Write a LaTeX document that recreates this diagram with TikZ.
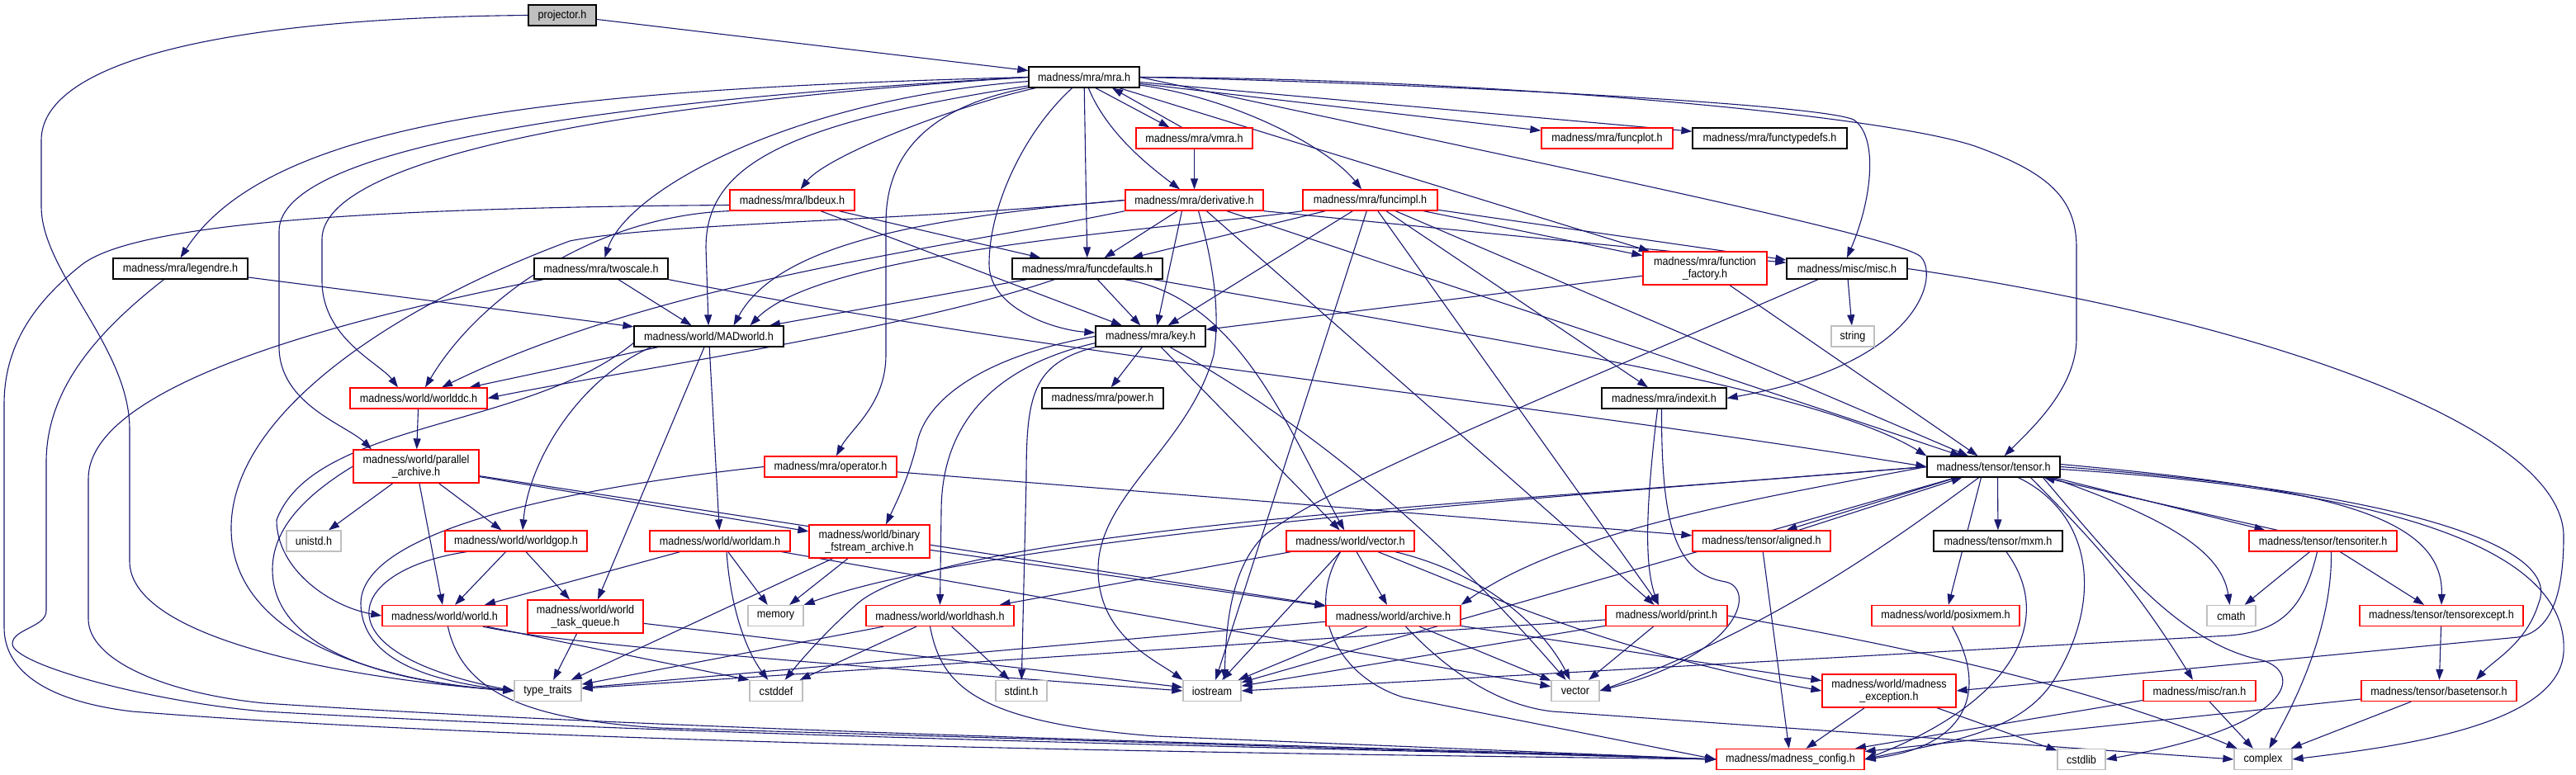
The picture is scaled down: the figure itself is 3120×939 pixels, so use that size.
\documentclass[tikz,border=0pt]{standalone}
\usepackage{fontspec}
\setmainfont{Liberation Sans}[FakeStretch=0.9]
\usetikzlibrary{arrows.meta}
\pgfdeclarelayer{background}
\pgfsetlayers{background,main}
\definecolor{edgec}{HTML}{191970}
\definecolor{redc}{HTML}{FF0000}
\definecolor{grayb}{HTML}{BFBFBF}
\definecolor{projfill}{HTML}{BFBFBF}
\tikzset{
 nb/.style={draw, fill=white, line width=1.3pt, inner sep=0pt, minimum height=25pt, font=\fontsize{14}{15}\selectfont, align=center},
 kb/.style={nb, draw=black},
 rb/.style={nb, draw=redc},
 gb/.style={nb, draw=grayb},
 tall/.style={minimum height=40pt},
 e/.style={draw=edgec, line width=1.1pt, -{Triangle[length=13pt,width=9pt]}}
}
\begin{document}
\begin{tikzpicture}[x=1pt,y=-1pt]
\useasboundingbox (0,0) rectangle (3120,939);
% nodes
\node[kb, fill=projfill, minimum width=82pt] (proj) at (681,18.5) {projector.h};
\node[kb, minimum width=134pt] (mra) at (1313,93.5) {madness/mra/mra.h};
\node[rb, minimum width=141pt] (vmra) at (1446.5,167.5) {madness/mra/vmra.h};
\node[rb, minimum width=159pt] (funcplot) at (1946.5,167.5) {madness/mra/funcplot.h};
\node[kb, minimum width=187pt] (functypedefs) at (2143.5,167.5) {madness/mra/functypedefs.h};
\node[rb, minimum width=151pt] (lbdeux) at (959.5,242.5) {madness/mra/lbdeux.h};
\node[rb, minimum width=167pt] (derivative) at (1446.5,242.5) {madness/mra/derivative.h};
\node[rb, minimum width=163pt] (funcimpl) at (1659.5,242.5) {madness/mra/funcimpl.h};
\node[kb, minimum width=163pt] (legendre) at (218.5,325.5) {madness/mra/legendre.h};
\node[kb, minimum width=162pt] (twoscale) at (728,325.5) {madness/mra/twoscale.h};
\node[kb, minimum width=182pt] (funcdefaults) at (1317,325.5) {madness/mra/funcdefaults.h};
\node[rb, tall, minimum width=150pt] (ff) at (2065,325) {madness/mra/function\\\_factory.h};
\node[kb, minimum width=146pt] (misc) at (2237,325.5) {madness/misc/misc.h};
\node[kb, minimum width=181pt] (MADworld) at (858.5,407.5) {madness/world/MADworld.h};
\node[kb, minimum width=133pt] (key) at (1393.5,407.5) {madness/mra/key.h};
\node[gb, minimum width=52pt] (string) at (2244,407.5) {string};
\node[rb, minimum width=166pt] (worlddc) at (507,482.5) {madness/world/worlddc.h};
\node[kb, minimum width=147pt] (power) at (1335.5,482.5) {madness/mra/power.h};
\node[kb, minimum width=151pt] (indexit) at (2015.5,482.5) {madness/mra/indexit.h};
\node[rb, tall, minimum width=152pt] (pa) at (504,565) {madness/world/parallel\\\_archive.h};
\node[rb, minimum width=160pt] (operator) at (1006,565.5) {madness/mra/operator.h};
\node[kb, minimum width=161pt] (tensor) at (2414.5,565.5) {madness/tensor/tensor.h};
\node[gb, minimum width=66pt] (unistd) at (380,655.5) {unistd.h};
\node[rb, minimum width=172pt] (worldgop) at (625,655.5) {madness/world/worldgop.h};
\node[rb, minimum width=170pt] (worldam) at (872,655.5) {madness/world/worldam.h};
\node[rb, tall, minimum width=146pt] (binary) at (1053,656) {madness/world/binary\\\_fstream\_archive.h};
\node[rb, minimum width=155pt] (vectorh) at (1635.5,655.5) {madness/world/vector.h};
\node[rb, minimum width=167pt] (aligned) at (2133.5,655.5) {madness/tensor/aligned.h};
\node[kb, minimum width=156pt] (mxm) at (2420,655.5) {madness/tensor/mxm.h};
\node[rb, minimum width=179pt] (tensoriter) at (2813.5,655.5) {madness/tensor/tensoriter.h};
\node[rb, minimum width=151pt] (world) at (538.5,746) {madness/world/world.h};
\node[rb, tall, minimum width=140pt] (taskq) at (709,747) {madness/world/world\\\_task\_queue.h};
\node[gb, minimum width=67pt] (memory) at (939.5,746) {memory};
\node[rb, minimum width=179pt] (worldhash) at (1138.5,746) {madness/world/worldhash.h};
\node[rb, minimum width=163pt] (archive) at (1687.5,746) {madness/world/archive.h};
\node[rb, minimum width=147pt] (print) at (2018.5,746) {madness/world/print.h};
\node[rb, minimum width=179pt] (posixmem) at (2356.5,746) {madness/world/posixmem.h};
\node[gb, minimum width=59pt] (cmath) at (2702.5,746) {cmath};
\node[rb, minimum width=198pt] (tensorexcept) at (2957,746) {madness/tensor/tensorexcept.h};
\node[gb, minimum width=81pt] (tt) at (663.5,837) {type\_traits};
\node[gb, minimum width=64pt] (cstddef) at (940,837) {cstddef};
\node[gb, minimum width=62pt] (stdint) at (1237,837) {stdint.h};
\node[gb, minimum width=70pt] (iostream) at (1468,837) {iostream};
\node[gb, minimum width=58pt] (vector) at (1908,837) {vector};
\node[rb, tall, minimum width=162pt] (exception) at (2288,837) {madness/world/madness\\\_exception.h};
\node[rb, minimum width=136pt] (ran) at (2664,837) {madness/misc/ran.h};
\node[rb, minimum width=188pt] (basetensor) at (2954,837) {madness/tensor/basetensor.h};
\node[rb, minimum width=179pt] (config) at (2168.5,920) {madness/madness\_config.h};
\node[gb, minimum width=58pt] (cstdlib) at (2521,920) {cstdlib};
\node[gb, minimum width=70pt] (complex) at (2741,920) {complex};

\begin{pgfonlayer}{background}
% projector
\draw[e] (proj) -- (mra);
\draw[e] (proj.west) .. controls (250,22) and (50,80) .. (50,170) -- (50,250) .. controls (50,330) and (157,420) .. (157,520) -- (157,680) .. controls (157,780) and (450,825) .. (tt.west);
% mra
\draw[e] (mra.west) .. controls (700,108) and (330,140) .. (legendre.north);
\draw[e] (mra.west) .. controls (800,118) and (338,170) .. (338,280) -- (338,420) .. controls (338,490) and (420,515) .. ([xshift=-54pt]pa.north);
\draw[e] (mra.west) .. controls (760,125) and (390,190) .. (390,290) -- (390,340) .. controls (390,410) and (460,440) .. ([xshift=-25pt]worlddc.north);
\draw[e] (mra) .. controls (960,120) and (760,230) .. (twoscale);
\draw[e] (mra) .. controls (1150,130) and (1000,190) .. (lbdeux);
\draw[e] (mra) .. controls (950,150) and (855,200) .. (855,300) -- (MADworld);
\draw[e] (mra) .. controls (1120,130) and (1073,190) .. (1073,270) -- (1073,430) .. controls (1073,490) and (1030,520) .. (operator);
\draw[e] (mra) .. controls (1240,160) and (1198,250) .. (1198,320) .. controls (1198,375) and (1280,400) .. (key);
\draw[e] (mra) -- (funcdefaults);
\draw[e] ([xshift=14pt]mra.south) -- ([xshift=-30pt]vmra.north);
\draw[e] ([xshift=-15pt]vmra.north) -- ([xshift=34pt]mra.south);
\draw[e] (vmra) -- (derivative);
\draw[e] (mra) .. controls (1340,160) and (1390,200) .. (derivative);
\draw[e] (mra) .. controls (1500,120) and (1610,180) .. (funcimpl);
\draw[e] (mra) -- (funcplot);
\draw[e] (mra) -- (functypedefs);
\draw[e] (mra) -- (ff);
\draw[e] (mra.east) .. controls (1700,100) and (2200,125) .. (2245,145) .. controls (2275,165) and (2268,240) .. (misc.north);
\draw[e] (mra.east) .. controls (1900,205) and (2290,285) .. (2325,310) .. controls (2350,330) and (2330,440) .. (indexit.east);
\draw[e] (mra.east) .. controls (1800,95) and (2300,140) .. (2400,180) .. controls (2480,210) and (2515,240) .. (2515,300) -- (2515,410) .. controls (2515,470) and (2460,520) .. (tensor);
% legendre
\draw[e] (legendre) -- (MADworld);
\draw[e] ([xshift=-20pt]legendre.south) .. controls (120,400) and (56,470) .. (56,560) -- (56,740) .. controls (56,760) and (15,762) .. (15,780) .. controls (15,805) and (180,850) .. (320,862) .. controls (900,895) and (1700,908) .. (config.west);
% twoscale
\draw[e] (twoscale) -- (MADworld);
\draw[e] (twoscale.south east) .. controls (1300,435) and (1800,480) .. (tensor.west);
\draw[e] ([xshift=-70pt]twoscale.south) .. controls (450,380) and (107,460) .. (107,580) -- (107,750) .. controls (107,800) and (200,840) .. (320,852) .. controls (900,890) and (1700,905) .. (config.west);
% lbdeux
\draw[e] (lbdeux) -- (key);
\draw[e] (lbdeux) -- (funcdefaults);
\draw[e] (lbdeux.south west) .. controls (720,262) and (580,360) .. ([xshift=8pt]worlddc.north);
\draw[e] ([yshift=-6pt]lbdeux.west) .. controls (400,252) and (160,275) .. (100,320) .. controls (30,375) and (5,430) .. (5,490) -- (5,760) .. controls (5,815) and (60,850) .. (160,862) .. controls (700,905) and (1700,915) .. (config.west);
% derivative
\draw[e] (derivative) -- (funcdefaults);
\draw[e] ([xshift=-15pt]derivative.south) -- ([xshift=8pt]key.north);
\draw[e] (derivative.west) .. controls (1100,265) and (940,300) .. ([xshift=30pt]MADworld.north);
\draw[e] (derivative.south west) .. controls (1150,300) and (800,340) .. ([xshift=28pt]worlddc.north);
\draw[e] ([xshift=5pt]derivative.south) .. controls (1470,320) and (1478,380) .. (1470,430) .. controls (1440,540) and (1330,600) .. (1330,690) .. controls (1330,770) and (1400,800) .. (iostream.north west);
\draw[e] (derivative) -- (print);
\draw[e] (derivative) -- (tensor);
\draw[e] (derivative.south east) -- (misc);
\draw[e] (derivative.west) .. controls (1100,268) and (800,270) .. (690,292) .. controls (480,370) and (280,500) .. (280,640) .. controls (280,770) and (450,825) .. (tt.west);
% funcimpl
\draw[e] (funcimpl.south west) .. controls (1450,275) and (1000,300) .. ([xshift=50pt]MADworld.north);
\draw[e] (funcimpl) -- (funcdefaults);
\draw[e] (funcimpl) -- (key);
\draw[e] (funcimpl) -- (ff);
\draw[e] (funcimpl) -- (misc);
\draw[e] (funcimpl) -- (tensor);
\draw[e] (funcimpl) -- (indexit);
\draw[e] (funcimpl) -- (print);
\draw[e] (funcimpl) -- (iostream);
% funcdefaults
\draw[e] (funcdefaults) -- (MADworld);
\draw[e] ([xshift=-40pt]funcdefaults.south) .. controls (1100,400) and (750,450) .. (worlddc.east);
\draw[e] (funcdefaults) -- (key);
\draw[e] ([xshift=80pt]funcdefaults.south) .. controls (1800,410) and (2200,470) .. (tensor.north west);
\draw[e] ([xshift=45pt]funcdefaults.south) .. controls (1500,360) and (1560,520) .. (vectorh);
% function factory
\draw[e] (ff) -- (key);
\draw[e] (ff) -- (tensor);
% misc
\draw[e] (misc) -- (string);
\draw[e] ([xshift=-35pt]misc.south) .. controls (1900,470) and (1600,590) .. (1530,650) .. controls (1490,690) and (1485,760) .. ([xshift=15pt]iostream.north);
\draw[e] (misc.east) .. controls (2750,390) and (3105,520) .. (3105,650) .. controls (3105,720) and (3090,765) .. (3050,772) -- (exception.east);
% MADworld
\draw[e] (MADworld) -- (worlddc);
\draw[e] ([xshift=-70pt]MADworld.south) .. controls (700,460) and (640,560) .. ([xshift=8pt]worldgop.north);
\draw[e] ([yshift=-8pt]MADworld.west) .. controls (640,520) and (380,510) .. (335,630) .. controls (335,690) and (400,735) .. (world.west);
\draw[e] (MADworld) -- ([xshift=15pt]taskq.north);
\draw[e] (MADworld) -- (worldam);
% worlddc, parallel archive
\draw[e] (worlddc) -- (pa);
\draw[e] (pa) -- (unistd);
\draw[e] (pa) -- (worldgop);
\draw[e] (pa) -- (world);
\draw[e] (pa) -- (binary);
\draw[e] (pa) -- (archive);
\draw[e] (pa.west) .. controls (370,600) and (330,640) .. (330,690) .. controls (330,780) and (450,825) .. (tt.west);
% worldgop
\draw[e] (worldgop) -- (world);
\draw[e] (worldgop) -- (taskq);
\draw[e] ([xshift=-60pt]worldgop.south) .. controls (420,690) and (380,790) .. (tt.west);
% worldam
\draw[e] (worldam) -- (world);
\draw[e] (worldam) -- (memory);
\draw[e] ([xshift=8pt]worldam.south) .. controls (885,740) and (905,790) .. (cstddef);
\draw[e] (worldam) -- (vector);
% binary
\draw[e] (binary) -- (memory);
\draw[e] (binary) -- (archive);
\draw[e] (binary) -- (tt);
% task queue
\draw[e] (taskq) -- (tt);
\draw[e] (taskq) -- (iostream);
% world
\draw[e] ([xshift=4pt]world.south) .. controls (560,840) and (640,872) .. (800,882) -- (config.west);
\draw[e] ([xshift=-25pt]world.south east) -- (cstddef.north west);
\draw[e] ([xshift=-30pt]world.south east) .. controls (660,775) and (800,790) .. (iostream.west);
% worldhash
\draw[e] (worldhash) -- (tt);
\draw[e] (worldhash) -- (cstddef);
\draw[e] (worldhash) -- (stdint);
\draw[e] ([xshift=-12pt]worldhash.south) .. controls (1140,830) and (1180,875) .. (1400,892) -- (config.west);
% key
\draw[e] (key) -- (power);
\draw[e] (key.west) .. controls (1200,430) and (1120,480) .. (1110,540) .. controls (1100,580) and (1085,610) .. ([xshift=20pt]binary.north);
\draw[e] ([yshift=5pt]key.south west) .. controls (1220,440) and (1140,500) .. (1140,620) -- (worldhash.north);
\draw[e] (key.south west) .. controls (1250,440) and (1243,480) .. (1243,580) -- (stdint);
\draw[e] (key) -- (vectorh);
\draw[e] (key) .. controls (1560,500) and (1720,620) .. (vector);
% operator
\draw[e] (operator) -- (aligned);
\draw[e] (operator.west) .. controls (700,590) and (440,640) .. (437,730) .. controls (437,800) and (520,825) .. (tt.west);
% world/vector.h
\draw[e] (vectorh) -- (worldhash);
\draw[e] (vectorh) -- (archive);
\draw[e] (vectorh) .. controls (1820,700) and (1880,780) .. (vector);
\draw[e] (vectorh) .. controls (1800,720) and (1950,790) .. (exception.west);
\draw[e] ([xshift=-12pt]vectorh.south) .. controls (1580,740) and (1620,820) .. (1700,845) -- (config.west);
\draw[e] (vectorh) -- (iostream);
% aligned
\draw[e] (aligned) -- (config);
\draw[e] ([xshift=-45pt]tensor.south) -- ([xshift=30pt]aligned.north);
\draw[e] ([xshift=45pt]aligned.north) -- ([xshift=-38pt]tensor.south);
% tensor
\draw[e] ([xshift=5pt]tensor.south) -- (mxm);
\draw[e] ([xshift=-15pt]tensor.south) -- (posixmem);
\draw[e] ([xshift=45pt]tensor.south) .. controls (2520,640) and (2580,700) .. (ran);
\draw[e] ([xshift=70pt]tensor.south) .. controls (2600,620) and (2690,660) .. (cmath);
\draw[e] ([xshift=-8pt]tensor.south east) -- ([xshift=-70pt]tensoriter.north);
\draw[e] ([xshift=-55pt]tensoriter.north) -- ([xshift=-20pt]tensor.south east);
\draw[e] ([yshift=3pt]tensor.east) .. controls (2800,590) and (2960,620) .. (tensorexcept.north);
\draw[e] (tensor.east) .. controls (2950,600) and (3100,670) .. (3075,730) .. controls (3060,780) and (3020,800) .. ([xshift=45pt]basetensor.north);
\draw[e] ([yshift=-3pt]tensor.east) .. controls (3000,600) and (3110,700) .. (3105,790) .. controls (3100,880) and (2900,905) .. (complex.east);
\draw[e] ([xshift=60pt]tensor.south) .. controls (2560,680) and (2640,780) .. (2740,800) .. controls (2790,815) and (2780,880) .. (cstdlib.east);
\draw[e] ([xshift=30pt]tensor.south) .. controls (2530,620) and (2550,720) .. (2490,820) .. controls (2450,890) and (2350,900) .. (config.east);
\draw[e] (tensor) -- (iostream);
\draw[e] (tensor) .. controls (2300,650) and (2150,760) .. (vector.east);
\draw[e] (tensor.west) .. controls (1900,600) and (1200,650) .. (memory.north east);
\draw[e] (tensor.west) .. controls (1800,610) and (1150,640) .. (1040,730) .. controls (1000,765) and (970,800) .. (cstddef);
\draw[e] (tensor.west) .. controls (2150,600) and (1900,640) .. (archive.north east);
% tensoriter
\draw[e] (tensoriter) -- (cmath);
\draw[e] (tensoriter) -- (tensorexcept);
\draw[e] ([xshift=10pt]tensoriter.south) .. controls (2825,760) and (2780,850) .. (complex);
\draw[e] ([xshift=-7pt]tensoriter.south) .. controls (2790,740) and (2760,765) .. (2700,770) -- (iostream.east);
% tensorexcept, basetensor, ran, mxm, posixmem
\draw[e] (tensorexcept) -- (basetensor);
\draw[e] (basetensor) -- (complex);
\draw[e] (basetensor) -- (config);
\draw[e] (ran) -- (complex);
\draw[e] (ran) -- (config);
\draw[e] ([xshift=10pt]mxm.south) .. controls (2490,750) and (2440,850) .. (config.east);
\draw[e] ([xshift=8pt]posixmem.south) .. controls (2410,840) and (2380,905) .. (config.east);
% exception
\draw[e] (exception) -- (config);
\draw[e] (exception) -- (cstdlib);
% indexit
\draw[e] ([xshift=-8pt]indexit.south) .. controls (1995,600) and (1990,680) .. ([xshift=-10pt]print.north);
\draw[e] ([xshift=-3pt]indexit.south) .. controls (2012,640) and (2030,695) .. (2090,705) .. controls (2125,712) and (2115,790) .. (vector.east);
% archive
\draw[e] (archive) -- (tt);
\draw[e] (archive) -- (iostream);
\draw[e] (archive) -- (vector);
\draw[e] (archive) -- (exception);
\draw[e] ([xshift=15pt]archive.south) .. controls (1760,820) and (1820,855) .. (1880,862) -- (complex.west);
% print
\draw[e] (print) -- (iostream);
\draw[e] (print) -- (tt);
\draw[e] (print) -- (vector);
\draw[e] (print.east) .. controls (2350,790) and (2550,840) .. (complex);
\end{pgfonlayer}
\end{tikzpicture}
\end{document}
